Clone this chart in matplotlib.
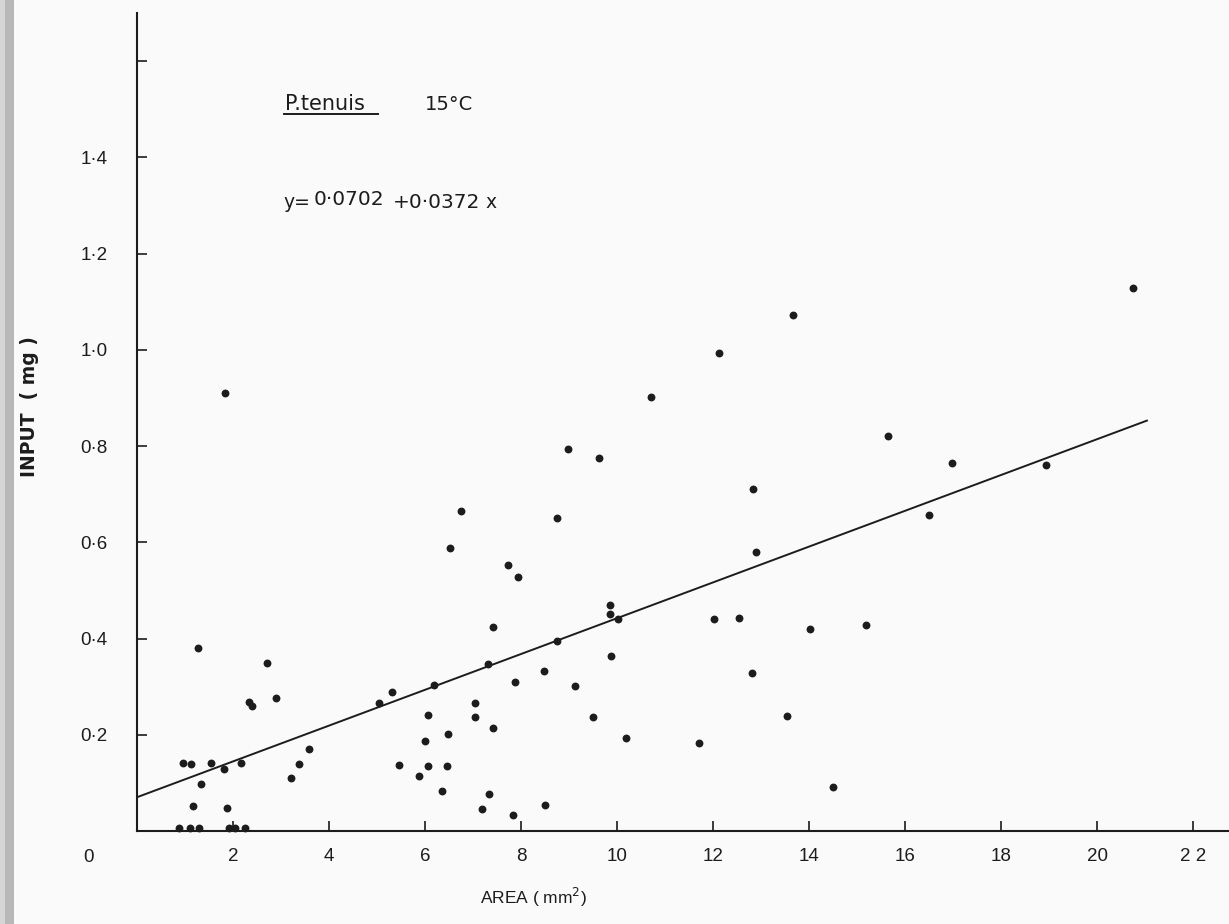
import numpy as np
import matplotlib
matplotlib.use("Agg")
import matplotlib.pyplot as plt
from matplotlib.patches import Rectangle

plt.rcParams['font.family'] = ['Liberation Sans', 'DejaVu Sans']

# leaf area (mm^2) and food input (mg), 15 C series
area = [0.88, 1.10, 1.29, 1.92, 2.04, 2.25,
        0.96, 1.12, 1.54, 1.81, 2.16, 1.33, 1.17, 1.875,
        2.33, 2.39, 2.90, 3.21, 3.37, 3.59,
        5.05, 5.32, 5.46, 5.87, 5.99, 6.06, 6.07,
        6.74, 8.74, 6.53, 7.73, 7.94, 9.85, 9.85, 10.03,
        7.42, 8.74, 7.31, 8.47, 9.87, 6.19, 7.88, 9.12,
        7.05, 7.05, 9.49, 7.42, 6.47, 10.19, 11.71,
        6.46, 6.35, 7.34, 7.19, 7.83, 8.51,
        15.65, 16.97, 12.83, 16.49, 12.89, 12.03, 12.55,
        14.03, 15.18, 12.81, 13.55, 14.51,
        1.83, 1.28, 2.71,
        13.66, 12.13, 10.71, 8.98, 9.63, 20.74, 18.94]
inp = [0.006, 0.006, 0.006, 0.006, 0.006, 0.006,
       0.141, 0.140, 0.141, 0.129, 0.142, 0.098, 0.051, 0.048,
       0.269, 0.260, 0.277, 0.110, 0.139, 0.170,
       0.267, 0.288, 0.137, 0.114, 0.188, 0.136, 0.242,
       0.666, 0.651, 0.588, 0.553, 0.528, 0.470, 0.452, 0.441,
       0.425, 0.394, 0.347, 0.333, 0.363, 0.304, 0.309, 0.302,
       0.266, 0.236, 0.236, 0.215, 0.202, 0.193, 0.182,
       0.135, 0.084, 0.077, 0.046, 0.034, 0.053,
       0.821, 0.764, 0.710, 0.657, 0.580, 0.441, 0.443,
       0.420, 0.429, 0.329, 0.238, 0.091,
       0.911, 0.380, 0.349,
       1.073, 0.994, 0.901, 0.794, 0.775, 1.129, 0.760]

# fitted regression
intercept = 0.0702
slope = 0.0372
fit_x = [0.0, 21.04]

x_ticks = [2, 4, 6, 8, 10, 12, 14, 16, 18, 20, 22]
x_labels = ['2', '4', '6', '8', '10', '12', '14', '16', '18', '20', '2 2']
y_ticks = [0.2, 0.4, 0.6, 0.8, 1.0, 1.2, 1.4, 1.6]
y_labels = ['0·2', '0·4', '0·6', '0·8', '1·0', '1·2', '1·4', '']

ink = '#1c1c1c'
W, H = 1229, 924
fig = plt.figure(figsize=(W / 100, H / 100), dpi=100, facecolor='#fafafa')

# gray scanner edge on the left
fig.patches.append(Rectangle((0, 0), 5 / W, 1, transform=fig.transFigure,
                             facecolor='#d6d6d6', edgecolor='none'))
fig.patches.append(Rectangle((5 / W, 0), 9 / W, 1, transform=fig.transFigure,
                             facecolor='#b8b8b8', edgecolor='none'))

ax = fig.add_axes([137 / W, 1 - 831 / H, (W - 137) / W, (831 - 13) / H])
ax.set_facecolor('none')
ax.set_xlim(0, 22.75)
ax.set_ylim(0, 1.70)

ax.scatter(area, inp, s=32, color=ink, zorder=3, clip_on=False, linewidths=0)
fx = np.array(fit_x)
ax.plot(fx, intercept + slope * fx, color=ink, lw=1.4, zorder=2)

for side in ['top', 'right']:
    ax.spines[side].set_visible(False)
for side in ['left', 'bottom']:
    ax.spines[side].set_linewidth(1.5)
    ax.spines[side].set_color(ink)

ax.set_xticks(x_ticks)
ax.set_xticklabels(x_labels)
ax.set_yticks(y_ticks)
ax.set_yticklabels(y_labels)
ax.tick_params(axis='both', direction='in', length=7, width=1.2, color=ink,
               labelsize=13.5, labelcolor=ink)
ax.tick_params(axis='y', pad=21)
ax.tick_params(axis='x', pad=12)

ax.annotate('0', xy=(0, 0), xycoords='data', xytext=(-35, -13),
            textcoords='offset points', ha='center', va='top',
            fontsize=13.5, color=ink)

ax.set_xlabel('AREA ( mm$^{2}$)', fontsize=12.5, color=ink)
ax.xaxis.set_label_coords((533 - 137) / (W - 137), -(886 - 831) / (831 - 13))
ax.set_ylabel('INPUT  ( mg )', fontsize=13.5, color=ink, fontweight='bold',
              family='DejaVu Sans')
ax.yaxis.set_label_coords(-(137 - 39) / (W - 137), (831 - 407) / (831 - 13))

note = dict(color=ink, va='baseline', ha='left', family='DejaVu Sans')
fig.text(285 / W, 1 - 110 / H, 'P.tenuis', fontsize=15, **note)
fig.add_artist(plt.Line2D([284 / W, 378 / W], [1 - 114 / H, 1 - 114 / H],
                          transform=fig.transFigure, color=ink, lw=1.4))
fig.text(425 / W, 1 - 110 / H, '15°C', fontsize=14, **note)

fig.text(283 / W, 1 - 208 / H, 'y=', fontsize=13.5, **note)
fig.text(314 / W, 1 - 205 / H, '0·0702', fontsize=14.5, **note)
fig.text(393 / W, 1 - 208 / H, '+0·0372', fontsize=14.5, **note)
fig.text(485 / W, 1 - 208 / H, 'x', fontsize=13.5, **note)

fig.savefig('out.png', dpi=100, facecolor=fig.get_facecolor())
